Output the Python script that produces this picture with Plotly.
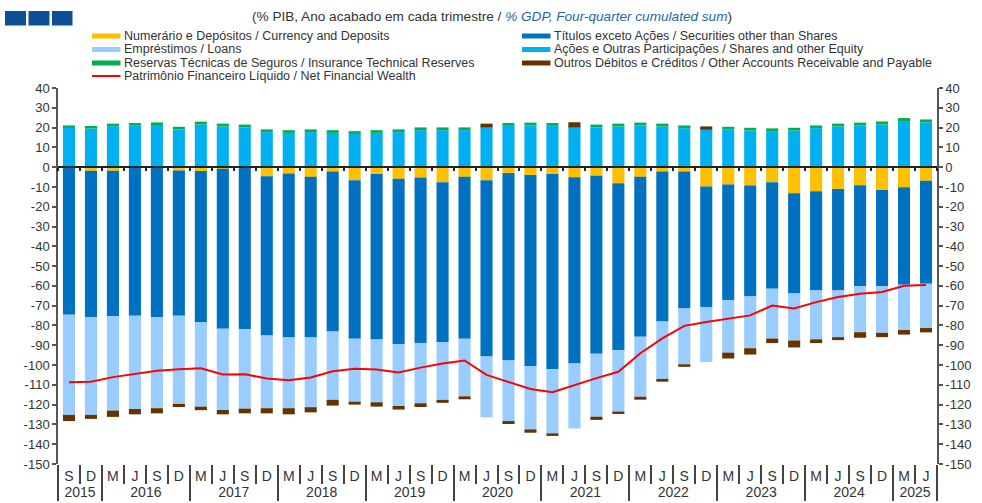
import plotly.graph_objects as go

# Quarter end of each observation (year / quarter initial).
# The two 2015 quarters carry a zero-width space so that the multicategory
# axis keeps the M, J, S, D order inside every later year.
years = ["2015", "2015",
         "2016", "2016", "2016", "2016",
         "2017", "2017", "2017", "2017",
         "2018", "2018", "2018", "2018",
         "2019", "2019", "2019", "2019",
         "2020", "2020", "2020", "2020",
         "2021", "2021", "2021", "2021",
         "2022", "2022", "2022", "2022",
         "2023", "2023", "2023", "2023",
         "2024", "2024", "2024", "2024",
         "2025", "2025"]
quarters = ["S\u200b", "D\u200b",
            "M", "J", "S", "D",
            "M", "J", "S", "D",
            "M", "J", "S", "D",
            "M", "J", "S", "D",
            "M", "J", "S", "D",
            "M", "J", "S", "D",
            "M", "J", "S", "D",
            "M", "J", "S", "D",
            "M", "J", "S", "D",
            "M", "J"]

# Net position by instrument, % of GDP
currency = [-0.3, -1.8, -1.8, -0.3, -0.2, -1.7, -2.0, -0.8, -0.3, -4.6,
            -3.2, -4.9, -2.2, -6.6, -3.5, -5.9, -5.2, -7.6, -4.9, -6.6,
            -2.9, -3.9, -3.5, -5.1, -4.4, -8.1, -4.9, -2.2, -2.2, -9.8,
            -8.8, -9.3, -7.6, -13.2, -12.2, -11.0, -9.1, -11.5, -10.1, -6.9]
securities = [-74.3, -74.0, -73.6, -74.8, -75.6, -73.4, -76.3, -80.9, -81.6, -80.5,
              -82.9, -81.2, -80.8, -80.1, -83.6, -83.5, -83.6, -80.8, -81.8, -89.1,
              -94.8, -96.7, -98.6, -94.1, -89.9, -84.4, -80.8, -75.8, -69.2, -60.9,
              -58.3, -56.0, -53.8, -50.6, -50.1, -51.3, -51.0, -48.7, -49.3, -52.0]
loans = [-50.6, -49.4, -47.6, -47.1, -46.0, -44.5, -42.7, -41.0, -40.1, -36.7,
         -35.7, -35.2, -34.6, -31.8, -31.7, -31.3, -30.5, -29.2, -29.1, -30.7,
         -30.6, -31.9, -32.4, -32.8, -31.8, -31.0, -30.3, -29.0, -28.2, -27.8,
         -26.6, -26.2, -25.2, -23.8, -24.7, -23.6, -23.3, -23.5, -22.9, -22.4]
shares = [19.8, 19.5, 20.7, 21.0, 21.3, 19.1, 21.6, 20.6, 20.1, 17.7,
          17.3, 17.7, 17.3, 16.8, 17.3, 17.7, 18.7, 18.7, 18.7, 20.0,
          20.9, 21.1, 20.9, 20.0, 20.1, 20.6, 21.1, 20.6, 19.7, 18.8,
          19.0, 18.5, 18.2, 18.5, 19.7, 20.6, 21.1, 21.6, 23.3, 22.6]
insurance = [1.3, 1.3, 1.3, 1.3, 1.3, 1.3, 1.4, 1.4, 1.4, 1.4,
             1.4, 1.4, 1.4, 1.4, 1.4, 1.4, 1.4, 1.4, 1.4, 0.3,
             1.4, 1.4, 1.4, 0.3, 1.4, 1.4, 1.4, 1.4, 1.4, 0.3,
             1.4, 1.4, 1.4, 1.4, 1.4, 1.4, 1.4, 1.5, 1.5, 1.5]
other = [-3.1, -2.0, -3.2, -2.7, -2.6, -1.6, -1.8, -2.2, -2.4, -2.6,
         -3.1, -2.6, -2.9, -1.5, -2.2, -1.8, -1.9, -1.5, -1.5, 1.7,
         -1.5, -1.7, -1.3, 2.4, -1.6, -1.2, -1.5, -1.4, -1.3, 1.5,
         -3.0, -3.2, -2.3, -3.5, -1.9, -1.5, -2.8, -2.2, -2.3, -2.2]
net_wealth = [-108.7, -108.4, -106.1, -104.5, -102.9, -102.1, -101.6, -104.8, -104.6, -106.8,
              -107.7, -106.3, -103.1, -101.9, -102.3, -103.8, -101.3, -99.2, -97.7, -105.0,
              -108.4, -112.1, -113.7, -110.0, -106.6, -103.4, -94.0, -86.5, -80.2, -78.3,
              -76.6, -74.9, -69.9, -71.4, -68.2, -65.6, -64.0, -63.1, -59.9, -59.6]

series_names = [
    "Numerário e Depósitos / Currency and Deposits",
    "Títulos exceto Ações / Securities other than Shares",
    "Empréstimos / Loans",
    "Ações e Outras Participações / Shares and other Equity",
    "Reservas Técnicas de Seguros / Insurance Technical Reserves",
    "Outros Débitos e Créditos / Other Accounts Receivable and Payable",
]
net_name = "Patrimônio Financeiro Líquido / Net Financial Wealth"
series_colors = ["#FFC000", "#0070C0", "#99CCFF", "#00B0F0", "#00B050", "#663300"]
net_color = "#FF0000"

y_ticks = list(range(40, -151, -10))

FONT = "Liberation Sans, Arial, sans-serif"
TEXT = "#333333"
W, H = 982, 503
ML, MR, MT, MB = 58, 45, 88, 39
PW, PH = W - ML - MR, H - MT - MB


def px_x(px):
    return (px - ML) / PW


def px_y(py):
    return (H - MB - py) / PH


fig = go.Figure()

x_multi = [years, quarters]
for name, vals, col in zip(series_names,
                           [currency, securities, loans, shares, insurance, other],
                           series_colors):
    fig.add_trace(go.Bar(x=x_multi, y=vals, name=name, marker=dict(color=col, line=dict(width=0))))

periods = [f"{q} {y}" for y, q in zip(years, quarters)]
fig.add_trace(go.Scatter(x=periods, y=net_wealth, name=net_name, mode="lines",
                         line=dict(color=net_color, width=2),
                         xaxis="x2", yaxis="y2"))

y_axis_common = dict(
    range=[-150, 40], tickvals=y_ticks, ticktext=[str(v) for v in y_ticks],
    showgrid=False, zeroline=False, showline=True, linecolor="#555555", linewidth=1.5,
    ticks="outside", ticklen=4, tickwidth=1.5, tickcolor="#555555",
    tickfont=dict(size=13, color=TEXT), automargin=False,
)

fig.update_layout(
    width=W, height=H,
    margin=dict(l=ML, r=MR, t=MT, b=MB, autoexpand=False),
    barmode="relative", bargap=0.45,
    plot_bgcolor="white", paper_bgcolor="white",
    showlegend=False,
    font=dict(family=FONT, size=12, color=TEXT),
    xaxis=dict(
        type="multicategory",
        showgrid=False, showline=False, zeroline=False,
        ticks="outside", tickson="boundaries", ticklen=19, tickwidth=1.5, tickcolor="#444444",
        showdividers=True, dividercolor="#444444", dividerwidth=1.5,
        tickfont=dict(size=14, color=TEXT), ticklabelstandoff=2, automargin=False,
    ),
    xaxis2=dict(
        type="category", overlaying="x", anchor="free", position=150 / 190, side="bottom",
        range=[-0.5, 39.5], showgrid=False, zeroline=False,
        showline=True, linecolor="#222222", linewidth=1.5,
        ticks="outside", tickson="boundaries", ticklen=3, tickwidth=1.5, tickcolor="#222222",
        showticklabels=False, tickmode="linear", tick0=0, dtick=1,
    ),
    yaxis=dict(**y_axis_common),
    yaxis2=dict(overlaying="y", side="right", anchor="x2", **y_axis_common),
)

# Header: logo blocks and unit note
for x0, x1 in [(5, 26), (28.5, 49.5), (52, 72.5)]:
    fig.add_shape(type="rect", xref="paper", yref="paper",
                  x0=px_x(x0), x1=px_x(x1), y0=px_y(25.5), y1=px_y(11),
                  fillcolor="#0D4E96", line=dict(width=0))

fig.add_annotation(
    xref="paper", yref="paper", x=px_x(492), y=px_y(16), xanchor="center", yanchor="middle",
    showarrow=False, font=dict(size=13.6, color=TEXT),
    text="(% PIB, Ano acabado em cada trimestre / "
         "<span style='color:#1F64B0'><i>% GDP, Four-quarter cumulated sum</i></span>)",
)

# Two-column key
key_rows = [36, 49.5, 63, 76]
key_items = [
    (series_names[0], series_colors[0], 92, key_rows[0], "bar"),
    (series_names[1], series_colors[1], 522, key_rows[0], "bar"),
    (series_names[2], series_colors[2], 92, key_rows[1], "bar"),
    (series_names[3], series_colors[3], 522, key_rows[1], "bar"),
    (series_names[4], series_colors[4], 92, key_rows[2], "bar"),
    (series_names[5], series_colors[5], 522, key_rows[2], "bar"),
    (net_name, net_color, 92, key_rows[3], "line"),
]
for label, col, kx, ky, kind in key_items:
    half = 2.5 if kind == "bar" else 1
    fig.add_shape(type="rect", xref="paper", yref="paper",
                  x0=px_x(kx), x1=px_x(kx + 28.5), y0=px_y(ky + half), y1=px_y(ky - half),
                  fillcolor=col, line=dict(width=0))
    fig.add_annotation(xref="paper", yref="paper", x=px_x(kx + 29.5), y=px_y(ky),
                       xanchor="left", yanchor="middle", showarrow=False,
                       text=label, font=dict(size=12.5, color=TEXT))

fig.write_html("out.html")
